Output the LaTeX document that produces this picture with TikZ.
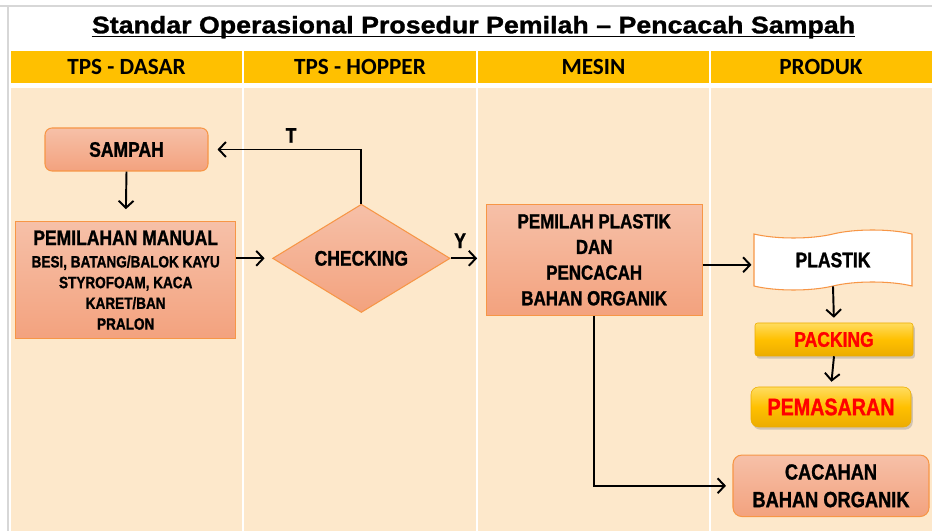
\documentclass[tikz,border=0pt]{standalone}
\usepackage{fontspec}
\setmainfont{Liberation Sans}[FakeStretch=0.83, FakeBold=1.2]
\newfontfamily\titlefont{Liberation Sans}[FakeStretch=1.12, FakeBold=1.2]
\newfontfamily\lanefont{Carlito}
\usepackage{tikz}
\usetikzlibrary{shapes.geometric, shapes.symbols, arrows.meta, shadows}

\definecolor{laneyellow}{RGB}{255,192,0}
\definecolor{lanepeach}{RGB}{253,232,203}
\definecolor{salmontop}{RGB}{246,192,168}
\definecolor{salmonbot}{RGB}{243,162,126}
\definecolor{edgeorange}{RGB}{247,150,70}
\definecolor{goldtop}{RGB}{255,220,95}
\definecolor{goldbot}{RGB}{236,172,0}
\definecolor{framegray}{RGB}{215,215,215}

\tikzset{
    procbox/.style={draw=edgeorange, line width=0.6pt, top color=salmontop,
        bottom color=salmonbot, align=center, inner sep=0pt,
        font=\bfseries\fontsize{12}{14.6}\selectfont},
    goldbox/.style={draw=goldbot, line width=0.3pt, top color=goldtop,
        bottom color=goldbot, middle color=laneyellow, text=red,
        drop shadow={shadow xshift=1pt, shadow yshift=-1.5pt, opacity=0.35},
        font=\bfseries\fontsize{12}{14}\selectfont},
    lanehead/.style={font=\lanefont\bfseries\fontsize{13.2}{15}\selectfont},
    arr/.style={line width=1.1pt, -{Straight Barb[length=4pt,width=8.5pt]}},
    flag/.style={font=\bfseries\fontsize{12}{14}\selectfont}
}

\begin{document}
\begin{tikzpicture}
    \useasboundingbox (0,0) rectangle (18.64,10.62);
    \fill[white] (0,0) rectangle (18.64,10.62);
    \draw[framegray, line width=1.2pt] (0,10.5) -- (18.64,10.5);
    \draw[framegray, line width=1.2pt] (0.16,0) -- (0.16,10.5);

    \node[font=\titlefont\bfseries\fontsize{13.6}{15}\selectfont, inner sep=0pt,
        anchor=base] (title) at (9.47,9.954)
        {Standar Operasional Prosedur Pemilah – Pencacah Sampah};
    \draw[line width=0.8pt] ([yshift=-0.07cm]title.base west)
        -- ([yshift=-0.07cm]title.base east);

    \filldraw[fill=laneyellow, draw=white, line width=1pt] (0.2,9.62) rectangle (4.86,8.94);
    \filldraw[fill=laneyellow, draw=white, line width=1pt] (4.86,9.62) rectangle (9.54,8.94);
    \filldraw[fill=laneyellow, draw=white, line width=1pt] (9.54,9.62) rectangle (14.2,8.94);
    \filldraw[fill=laneyellow, draw=white, line width=1pt] (14.2,9.62) rectangle (18.7,8.94);

    \filldraw[fill=lanepeach, draw=white, line width=1pt] (0.2,8.88) rectangle (4.86,-0.1);
    \filldraw[fill=lanepeach, draw=white, line width=1pt] (4.86,8.88) rectangle (9.54,-0.1);
    \filldraw[fill=lanepeach, draw=white, line width=1pt] (9.54,8.88) rectangle (14.2,-0.1);
    \filldraw[fill=lanepeach, draw=white, line width=1pt] (14.2,8.88) rectangle (18.7,-0.1);

    \node[lanehead] (dasar) at (2.53,9.28) {TPS - DASAR};
    \node[lanehead] (hopper) at (7.2,9.28) {TPS - HOPPER};
    \node[lanehead] (mesinhead) at (11.87,9.28) {MESIN};
    \node[lanehead] (produk) at (16.42,9.28) {PRODUK};

    \node[procbox, rounded corners=0.14cm, minimum width=3.26cm, minimum height=0.86cm]
        (sampah) at (2.53,7.63) {SAMPAH};
    \node[procbox, minimum width=4.4cm, minimum height=2.34cm,
        font=\bfseries\fontsize{9.3}{11.8}\selectfont]
        (pilah) at (2.514,5.016)
        {{\fontsize{12}{12}\selectfont PEMILAHAN MANUAL}\\[0.9pt]
         BESI, BATANG/BALOK KAYU\\ STYROFOAM, KACA\\ KARET/BAN\\ PRALON};
    \node[procbox, diamond, minimum width=3.55cm, minimum height=2.07cm]
        (cek) at (7.227,5.453) {CHECKING};
    \node[procbox, minimum width=4.32cm, minimum height=2.23cm,
        font=\bfseries\fontsize{11.6}{14.6}\selectfont]
        (mesin) at (11.884,5.424)
        {PEMILAH PLASTIK\\ DAN\\ PENCACAH\\ BAHAN ORGANIK};
    \node[flag, tape, draw=edgeorange, line width=0.6pt, fill=white,
        tape bend height=0.16cm, minimum width=3.16cm, minimum height=1.2cm]
        (plastik) at (16.66,5.42) {PLASTIK};
    \node[goldbox, rounded corners=0.05cm, minimum width=3.16cm, minimum height=0.66cm]
        (packing) at (16.68,3.83) {PACKING};
    \node[goldbox, rounded corners=0.15cm, minimum width=3.2cm, minimum height=0.8cm,
        font=\bfseries\fontsize{13.5}{15}\selectfont]
        (pasar) at (16.62,2.48) {PEMASARAN};
    \node[procbox, rounded corners=0.18cm, minimum width=3.92cm, minimum height=1.23cm,
        font=\bfseries\fontsize{12.5}{15.7}\selectfont]
        (cacah) at (16.62,0.904) {CACAHAN\\ BAHAN ORGANIK};

    \draw[arr, shorten >=0.24cm] (sampah.south) -- (pilah.north);
    \draw[arr, shorten >=0.15cm] (pilah.east |- cek.west) -- (cek.west);
    \draw[arr, shorten >=0.18cm] (cek.north) |- (sampah.east)
        node[pos=0.73, above, flag] (tidak) {T};
    \draw[arr, shorten >=0.17cm] (cek.east) -- (cek.east -| mesin.west)
        node[pos=0.27, above, flag, yshift=2pt] (ya) {Y};
    \draw[arr, shorten >=0.04cm] ([yshift=-0.1cm]mesin.east)
        -- ([yshift=-0.1cm]mesin.east -| plastik.west);
    \draw[arr, shorten >=0.1cm] (plastik.south) -- (packing.north);
    \draw[arr, shorten >=0.1cm] (packing.south) -- (pasar.north);
    \draw[arr, shorten >=0.13cm] (mesin.south) |- (cacah.west);
\end{tikzpicture}
\end{document}
